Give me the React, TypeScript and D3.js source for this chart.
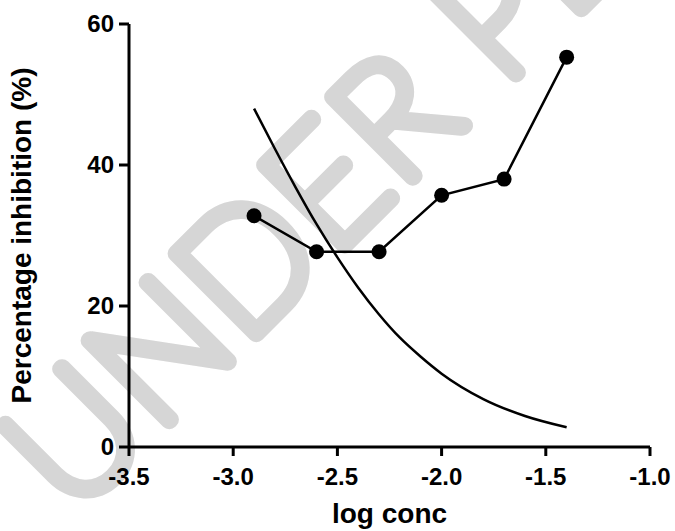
import React from "react";
import * as d3 from "d3";

const logConc = [-2.9, -2.6, -2.3, -2.0, -1.7, -1.4];
const inhibition = [32.8, 27.7, 27.7, 35.7, 38.0, 55.3];

const curveX = [-2.9, -2.8, -2.7, -2.6, -2.5, -2.4, -2.3, -2.2, -2.1, -2.0, -1.8, -1.6, -1.4];
const curveY = [48.0, 42.3, 36.8, 31.6, 26.9, 22.6, 18.8, 15.5, 12.8, 10.4, 6.8, 4.4, 2.8];

const xTicks = [-3.5, -3.0, -2.5, -2.0, -1.5, -1.0];
const yTicks = [0, 20, 40, 60];

const W = 675;
const H = 531;

export default function App() {
  const x = d3.scaleLinear().domain([-3.5, -1.0]).range([129, 650]);
  const y = d3.scaleLinear().domain([0, 60]).range([447, 24]);

  const dataLine = d3
    .line<number>()
    .x((_, i) => x(logConc[i]))
    .y((d) => y(d))(inhibition) as string;

  const fitLine = d3
    .line<number>()
    .x((_, i) => x(curveX[i]))
    .y((d) => y(d))
    .curve(d3.curveMonotoneX)(curveY) as string;

  const font = "'Liberation Sans', Arial, sans-serif";

  return (
    <svg
      width={W}
      height={H}
      style={{ position: "absolute", left: 0, top: 0, background: "#fff" }}
    >
      <g clipPath="url(#clipAll)">
        <defs>
          <clipPath id="clipAll">
            <rect x={0} y={0} width={W} height={H} />
          </clipPath>
        </defs>
        <text
          x={0}
          y={0}
          transform="translate(72,518) rotate(-45)"
          fontFamily="Lato, 'DejaVu Sans', sans-serif"
          fontWeight={100}
          fontSize={162}
          fill="#d6d6d6"
          stroke="#d6d6d6"
          strokeWidth={17}
          strokeLinejoin="round"
          strokeLinecap="round"
          letterSpacing={2}
        >
          UNDER PEER REVIEW
        </text>
      </g>

      {/* axes */}
      <line x1={x(-3.5)} x2={x(-1.0)} y1={y(0)} y2={y(0)} stroke="#000" strokeWidth={3} />
      <line x1={x(-3.5)} x2={x(-3.5)} y1={y(0)} y2={y(60)} stroke="#000" strokeWidth={3} />
      {xTicks.map((t) => (
        <g key={"x" + t}>
          <line x1={x(t)} x2={x(t)} y1={y(0)} y2={y(0) + 9} stroke="#000" strokeWidth={3} />
          <text
            x={x(t)}
            y={485}
            textAnchor="middle"
            fontFamily={font}
            fontWeight="bold"
            fontSize={24}
          >
            {t.toFixed(1)}
          </text>
        </g>
      ))}
      {yTicks.map((t) => (
        <g key={"y" + t}>
          <line x1={x(-3.5) - 10} x2={x(-3.5)} y1={y(t)} y2={y(t)} stroke="#000" strokeWidth={3} />
          <text
            x={x(-3.5) - 15}
            y={y(t) + 8}
            textAnchor="end"
            fontFamily={font}
            fontWeight="bold"
            fontSize={24}
          >
            {t}
          </text>
        </g>
      ))}

      <text
        x={389.5}
        y={523}
        textAnchor="middle"
        fontFamily={font}
        fontWeight="bold"
        fontSize={28}
      >
        log conc
      </text>
      <text
        transform={`translate(31,235.5) rotate(-90)`}
        textAnchor="middle"
        fontFamily={font}
        fontWeight="bold"
        fontSize={28}
      >
        Percentage inhibition (%)
      </text>

      <path d={fitLine} fill="none" stroke="#000" strokeWidth={2.5} />
      <path d={dataLine} fill="none" stroke="#000" strokeWidth={2.5} />
      {inhibition.map((v, i) => (
        <circle key={i} cx={x(logConc[i])} cy={y(v)} r={7.5} fill="#000" />
      ))}
    </svg>
  );
}
